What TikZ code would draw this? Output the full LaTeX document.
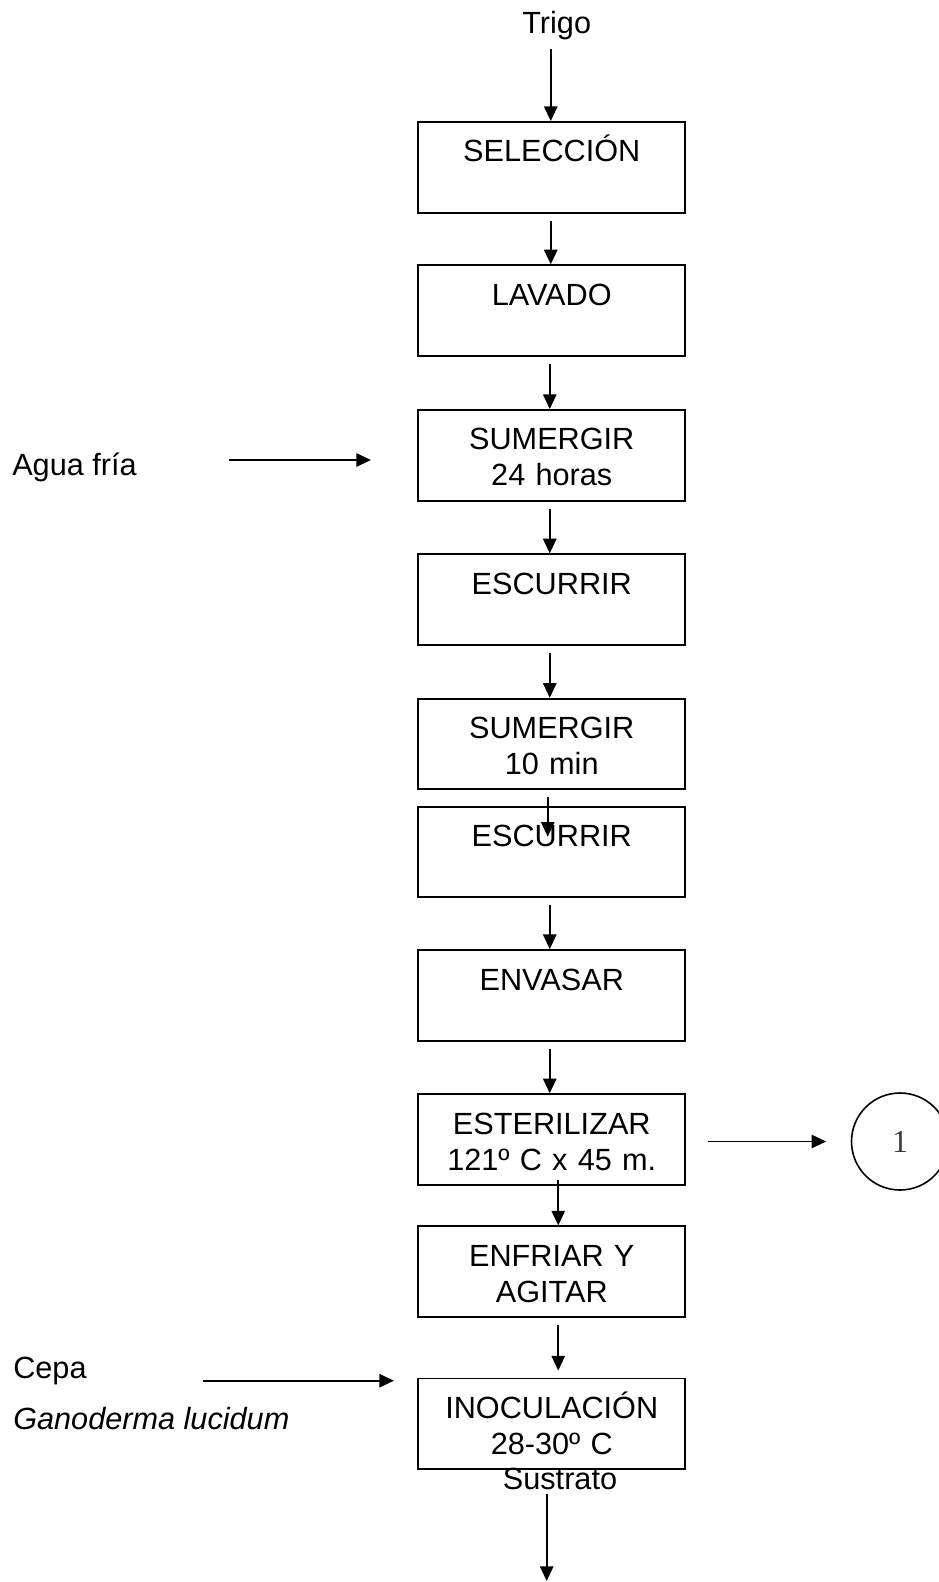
\documentclass[tikz,border=0pt]{standalone}
\usepackage{fontspec}
\setmainfont{Liberation Sans}
\newfontfamily\circfont{Liberation Serif}
\usetikzlibrary{positioning,arrows.meta,calc}
\definecolor{ink}{HTML}{000000}
\definecolor{ink2}{HTML}{3C3C3C}
\tikzset{
  box/.style={draw=ink, line width=1.4pt, anchor=north, align=center, text width=200pt,
    inner xsep=0pt, inner ysep=0pt, text height=30pt, text depth=38pt, text=ink},
  arr/.style={-{Triangle[length=11pt,width=10pt]}, line width=1.4pt, color=ink},
  lab/.style={text=ink, inner sep=0pt},
  circ/.style={draw=ink, circle, line width=1.2pt, minimum size=72.75pt, inner sep=0pt,
    font=\circfont\fontsize{24pt}{28pt}\selectfont, text=ink2},
}

\begin{document}
\begin{tikzpicture}[x=0.75pt, y=-0.75pt, font=\fontsize{23pt}{27pt}\selectfont]
  \useasboundingbox (0,0) rectangle (939,1582);
  \clip (0,0) rectangle (939,1582);
  % main line
  \node[lab, anchor=base] (trigo) at (556.7,33) {Trigo};
  \node[box] (n1) at (551.75,121) {SELECCIÓN};
  \node[box, below=38.1pt of n1] (n2) {LAVADO};
  \node[box, below=39.1pt of n2] (n3) {SUMERGIR\\24 horas};
  \node[box, below=38.9pt of n3] (n4) {ESCURRIR};
  \node[box, below=38.9pt of n4] (n5) {SUMERGIR\\10 min};
  \node[box, below=11.5pt of n5] (n6) {ESCURRIR};
  \node[box, below=38.2pt of n6] (n7) {ENVASAR};
  \node[box, below=38.7pt of n7] (n8) {ESTERILIZAR\\121º C x 45 m.};
  \node[box, below=29.7pt of n8] (n9) {ENFRIAR Y\\AGITAR};
  \node[box, below=44.7pt of n9] (n10) {INOCULACIÓN\\28-30º C};
  \node[lab, anchor=base] (sus) at (560,1489) {Sustrato};
  \coordinate (fin) at (546.7,1581);
  % inputs
  \node[lab, anchor=base west] (agua) at (12,475) {Agua fría};
  \coordinate (aguain) at (229,460);
  \node[lab, anchor=base west] (cepa) at (13,1378) {Cepa};
  \node[lab, anchor=base west] (gano) at (13,1429) {\textit{Ganoderma lucidum}};
  \coordinate (cepain) at (203,1380.7);
  \node[circ] (c1) at (900,1141.5) {1};
  % arrows
  \draw[arr] ($(trigo.south -| n1.north)+(-1,9.6)$) -- ($(n1.north)+(-1,0)$);
  \draw[arr] ($(n1.south)+(-1,7)$) -- ($(n2.north)+(-1,0)$);
  \draw[arr] ($(n2.south)+(-2,7)$) -- ($(n3.north)+(-2,0)$);
  \draw[arr] ($(n3.south)+(-2,7)$) -- ($(n4.north)+(-2,0)$);
  \draw[arr] ($(n4.south)+(-2,7)$) -- ($(n5.north)+(-2,0)$);
  \draw[arr] ($(n5.south)+(-4,7)$) -- ($(n6.north)+(-4,31)$);
  \draw[arr] ($(n6.south)+(-2,7)$) -- ($(n7.north)+(-2,0)$);
  \draw[arr] ($(n7.south)+(-2,7)$) -- ($(n8.north)+(-2,0)$);
  \draw[arr] ($(n8.south)+(6.5,-6)$) -- ($(n9.north)+(6.5,0)$);
  \draw[arr] ($(n9.south)+(6.5,7)$) -- ($(n10.north)+(6.5,-7)$);
  \draw[arr] ($(sus.south -| fin)+(0,4)$) -- (fin);
  \draw[arr] (aguain) -- ($(aguain -| n3.west)+(-46.5,0)$);
  \draw[arr] (cepain) -- ($(cepain -| n10.west)+(-23.5,0)$);
  \draw[arr] ($(n8.east |- c1)+(22,0)$) -- ($(c1.west)+(-24.5,0)$);
\end{tikzpicture}
\end{document}
